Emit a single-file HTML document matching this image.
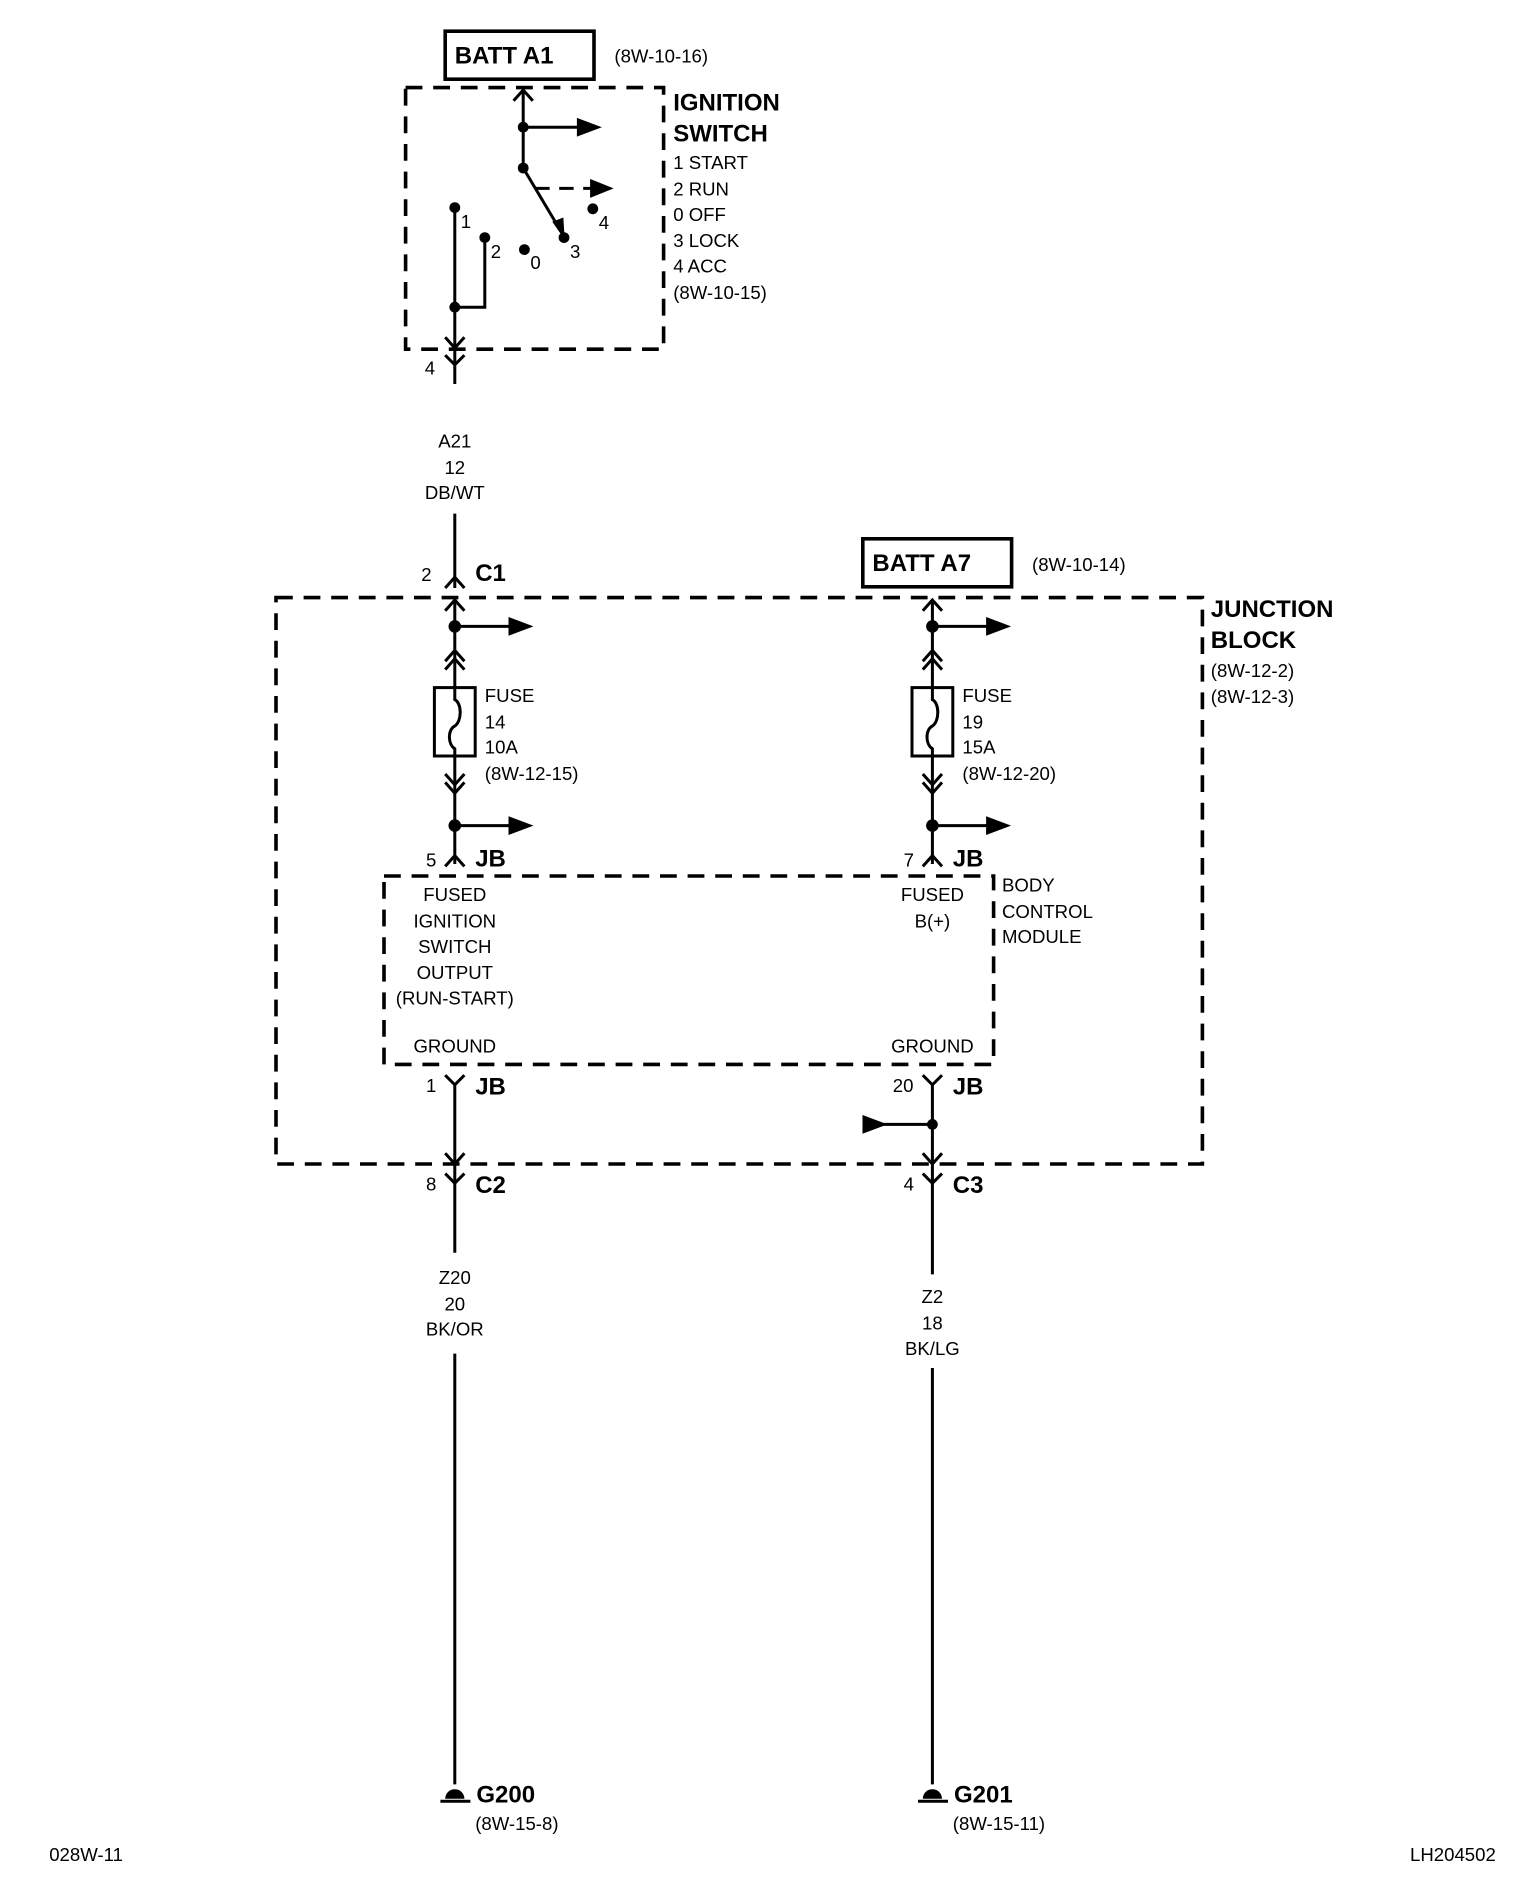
<!DOCTYPE html>
<html><head><meta charset="utf-8"><style>html,body{margin:0;padding:0;background:#fff}svg{display:block}text{font-family:"Liberation Sans Narrow","Liberation Sans",sans-serif;fill:#000}</style></head>
<body>
<svg width="1536" height="1890" viewBox="0 0 1280 1575" xmlns="http://www.w3.org/2000/svg">
<g stroke="#000" stroke-width="2.5" fill="none">
<rect x="371" y="26" width="124" height="40" stroke-width="3"/>
<rect x="338" y="73" width="215" height="218" stroke-width="3" stroke-dasharray="14,9"/>
<line x1="436" y1="75" x2="436" y2="140"/>
<polyline points="428,84 436,75 444,84"/>
<line x1="436" y1="106" x2="482" y2="106"/>
<path d="M482,100L498,106L482,112z" fill="#000"/>
<line x1="436" y1="140" x2="467" y2="192"/>
<path d="M461,185L470,198L469,182z" fill="#000" stroke-width="1"/>
<line x1="446" y1="157" x2="494" y2="157" stroke-dasharray="12,8"/>
<path d="M493,151L508,157L493,163z" fill="#000"/>
<line x1="379" y1="173" x2="379" y2="320"/>
<polyline points="379,256 404,256 404,198"/>
<polyline points="371,281 379,290 387,281"/>
<polyline points="371,296 379,304 387,296"/>
<line x1="379" y1="428" x2="379" y2="490"/>
<polyline points="371,490 379,481 387,490"/>
<rect x="719" y="449" width="124" height="40" stroke-width="3"/>
<rect x="230" y="498" width="772" height="472" stroke-width="3" stroke-dasharray="14,9"/>
<rect x="320" y="730" width="508" height="157" stroke-width="3" stroke-dasharray="14,9"/>
</g>
<g id="col" stroke="#000" stroke-width="2.5" fill="none">
<line x1="379" y1="500" x2="379" y2="720"/>
<polyline points="371,509 379,500 387,509"/>
<line x1="379" y1="522" x2="425" y2="522"/>
<path d="M425,516L441,522L425,528z" fill="#000"/>
<polyline points="371,551 379,542 387,551"/>
<polyline points="371,558 379,549 387,558"/>
<rect x="362" y="573" width="34" height="57" fill="#fff"/>
<path d="M379,573v10c6,3 6,18 0,22c-6,3 -6,15 0,19v6"/>
<polyline points="371,645 379,654 387,645"/>
<polyline points="371,652 379,661 387,652"/>
<line x1="379" y1="688" x2="425" y2="688"/>
<path d="M425,682L441,688L425,694z" fill="#000"/>
<polyline points="371,722 379,713 387,722"/>
<circle cx="379" cy="522" r="4" fill="#000"/>
<circle cx="379" cy="688" r="4" fill="#000"/>
</g>
<use href="#col" x="398"/>
<g stroke="#000" stroke-width="2.5" fill="none">
<polyline points="371,896 379,904 387,896"/>
<line x1="379" y1="904" x2="379" y2="1044"/>
<polyline points="371,961 379,970 387,961"/>
<polyline points="371,978 379,986 387,978"/>
<line x1="379" y1="1128" x2="379" y2="1487"/>
<polyline points="769,896 777,904 785,896"/>
<line x1="777" y1="904" x2="777" y2="1062"/>
<polyline points="769,961 777,970 785,961"/>
<polyline points="769,978 777,986 785,978"/>
<line x1="735" y1="937" x2="777" y2="937"/>
<path d="M720,931L736,937L720,943z" fill="#000"/>
<line x1="777" y1="1140" x2="777" y2="1487"/>
<line x1="367" y1="1501" x2="392" y2="1501"/>
<line x1="765" y1="1501" x2="790" y2="1501"/>
</g>
<g fill="#000">
<circle cx="436" cy="106" r="4.5"/><circle cx="436" cy="140" r="4.5"/>
<circle cx="379" cy="173" r="4.5"/><circle cx="404" cy="198" r="4.5"/>
<circle cx="437" cy="208" r="4.5"/><circle cx="470" cy="198" r="4.5"/>
<circle cx="494" cy="174" r="4.5"/><circle cx="379" cy="256" r="4.5"/>
<circle cx="777" cy="937" r="4.5"/>
<path d="M371,1499a8,8 0 0 1 16,0z"/><path d="M769,1499a8,8 0 0 1 16,0z"/>
</g>
<g font-size="20" font-weight="bold">
<text x="379" y="53">BATT A1</text>
<text x="727" y="476">BATT A7</text>
<text x="561" y="92">IGNITION</text>
<text x="561" y="118">SWITCH</text>
<text x="1009" y="514">JUNCTION</text>
<text x="1009" y="540">BLOCK</text>
<text x="396" y="484">C1</text>
<text x="396" y="722">JB</text>
<text x="794" y="722">JB</text>
<text x="396" y="912">JB</text>
<text x="794" y="912">JB</text>
<text x="396" y="994">C2</text>
<text x="794" y="994">C3</text>
<text x="397" y="1502">G200</text>
<text x="795" y="1502">G201</text>
</g>
<g font-size="15.5">
<text x="512" y="52">(8W-10-16)</text>
<text x="860" y="476">(8W-10-14)</text>
<text x="561" y="141">1 START</text>
<text x="561" y="163">2 RUN</text>
<text x="561" y="184">0 OFF</text>
<text x="561" y="206">3 LOCK</text>
<text x="561" y="227">4 ACC</text>
<text x="561" y="249">(8W-10-15)</text>
<text x="384" y="190">1</text><text x="409" y="215">2</text>
<text x="442" y="224">0</text><text x="475" y="215">3</text><text x="499" y="191">4</text>
<text x="354" y="312">4</text>
<text x="351" y="484">2</text>
<text x="355" y="722">5</text>
<text x="753" y="722">7</text>
<text x="355" y="910">1</text>
<text x="744" y="910">20</text>
<text x="355" y="992">8</text>
<text x="753" y="992">4</text>
<text x="1009" y="564">(8W-12-2)</text>
<text x="1009" y="586">(8W-12-3)</text>
<text x="404" y="585">FUSE</text><text x="404" y="607">14</text><text x="404" y="628">10A</text><text x="404" y="650">(8W-12-15)</text>
<text x="802" y="585">FUSE</text><text x="802" y="607">19</text><text x="802" y="628">15A</text><text x="802" y="650">(8W-12-20)</text>
<text x="835" y="743">BODY</text><text x="835" y="765">CONTROL</text><text x="835" y="786">MODULE</text>
<text x="41" y="1551">028W-11</text>
<text x="1175" y="1551">LH204502</text>
<text x="396" y="1525">(8W-15-8)</text>
<text x="794" y="1525">(8W-15-11)</text>
</g>
<g font-size="15.5" text-anchor="middle">
<text x="379" y="373">A21</text><text x="379" y="395">12</text><text x="379" y="416">DB/WT</text>
<text x="379" y="751">FUSED</text><text x="379" y="773">IGNITION</text><text x="379" y="794">SWITCH</text><text x="379" y="816">OUTPUT</text><text x="379" y="837">(RUN-START)</text>
<text x="777" y="751">FUSED</text><text x="777" y="773">B(+)</text>
<text x="379" y="877">GROUND</text><text x="777" y="877">GROUND</text>
<text x="379" y="1070">Z20</text><text x="379" y="1092">20</text><text x="379" y="1113">BK/OR</text>
<text x="777" y="1086">Z2</text><text x="777" y="1108">18</text><text x="777" y="1129">BK/LG</text>
</g>
</svg>
</body></html>
